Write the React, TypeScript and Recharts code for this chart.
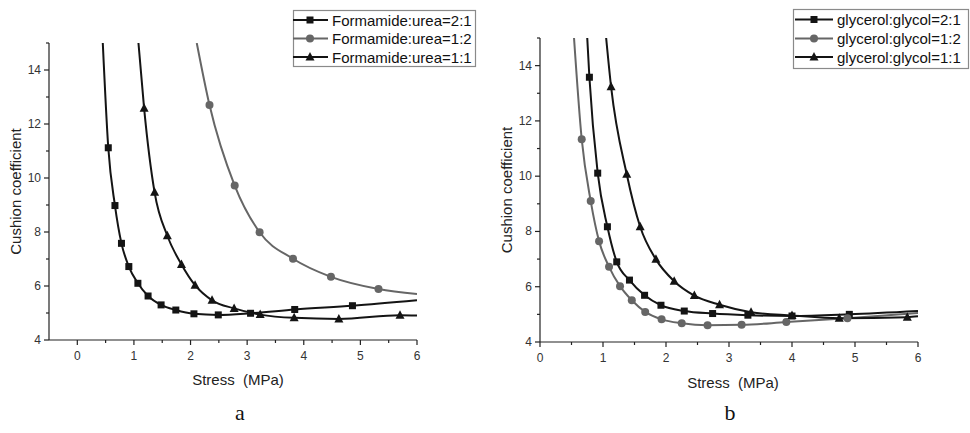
import React from 'react';
import { ComposedChart, Line, XAxis, YAxis, Legend, Label } from 'recharts';

// ---------- Panel a : Formamide:urea ----------
const stressA21 = [0.45, 0.547, 0.665, 0.78, 0.91, 1.07, 1.25, 1.48, 1.74, 2.06, 2.49, 3.06, 3.84, 4.86, 6.0];
const coefA21 = [15, 11.12, 8.98, 7.58, 6.72, 6.1, 5.63, 5.3, 5.11, 4.97, 4.93, 4.99, 5.13, 5.27, 5.47];

const stressA12 = [2.11, 2.335, 2.78, 3.22, 3.81, 4.48, 5.32, 6.0];
const coefA12 = [15, 12.7, 9.72, 7.99, 7.01, 6.34, 5.89, 5.7];

const stressA11 = [1.08, 1.18, 1.365, 1.59, 1.84, 2.08, 2.38, 2.77, 3.23, 3.83, 4.62, 5.7, 6.0];
const coefA11 = [15, 12.58, 9.47, 7.86, 6.8, 6.03, 5.47, 5.17, 4.94, 4.82, 4.78, 4.92, 4.91];

// ---------- Panel b : glycerol:glycol ----------
const stressB21 = [0.75, 0.784, 0.916, 1.07, 1.218, 1.42, 1.66, 1.92, 2.29, 2.74, 3.3, 4.0, 4.91, 6.0];
const coefB21 = [15, 13.58, 10.11, 8.17, 6.9, 6.24, 5.69, 5.33, 5.12, 5.03, 4.97, 4.94, 5.0, 5.12];

const stressB12 = [0.54, 0.662, 0.805, 0.9375, 1.096, 1.27, 1.457, 1.67, 1.93, 2.25, 2.66, 3.2, 3.91, 4.88, 6.0];
const coefB12 = [15, 11.34, 9.1, 7.65, 6.72, 6.02, 5.51, 5.09, 4.82, 4.68, 4.61, 4.62, 4.72, 4.86, 5.05];

const stressB11 = [1.05, 1.128, 1.377, 1.59, 1.84, 2.13, 2.45, 2.85, 3.35, 4.0, 4.75, 5.83, 6.0];
const coefB11 = [15, 13.24, 10.07, 8.17, 6.99, 6.2, 5.68, 5.35, 5.08, 4.96, 4.86, 4.9, 4.93];

// ---------- ticks / labels ----------
const xTicks = [0, 0.5, 1, 1.5, 2, 2.5, 3, 3.5, 4, 4.5, 5, 5.5, 6];
const yTicks = [4, 5, 6, 7, 8, 9, 10, 11, 12, 13, 14, 15];
const namesA = ['Formamide:urea=2:1', 'Formamide:urea=1:2', 'Formamide:urea=1:1'];
const namesB = ['glycerol:glycol=2:1', 'glycerol:glycol=1:2', 'glycerol:glycol=1:1'];
const yTitle = 'Cushion coefficient';
const xTitle = 'Stress  (MPa)';

const BLACK = '#141414';
const GREY = '#666666';
const AXIS = '#222222';
const FONT = '"Liberation Sans", Arial, sans-serif';

type Shape = 'square' | 'circle' | 'triangle';
const shapes: Shape[] = ['square', 'circle', 'triangle'];
const colors = [BLACK, GREY, BLACK];

const toRows = (xs: number[], ys: number[]) => xs.map((x, i) => ({ x, y: ys[i] }));

const Marker = ({ shape, cx, cy, color }: { shape: Shape; cx: number; cy: number; color: string }) => {
  if (shape === 'square') return <rect x={cx - 3.5} y={cy - 3.5} width={7} height={7} fill={color} />;
  if (shape === 'circle') return <circle cx={cx} cy={cy} r={4} fill={color} />;
  return <polygon points={`${cx},${cy - 5} ${cx - 4.5},${cy + 3.5} ${cx + 4.5},${cy + 3.5}`} fill={color} />;
};

const makeDot = (shape: Shape, color: string, count: number) => (props: any) => {
  const { cx, cy, index } = props;
  if (index === 0 || index === count - 1 || cx == null || cy == null) return <g key={`e${index}`} />;
  return (
    <g key={`d${index}`}>
      <Marker shape={shape} cx={cx} cy={cy} color={color} />
    </g>
  );
};

const XTick = (props: any) => {
  const { x, y, payload } = props;
  const v = payload.value as number;
  const major = Number.isInteger(v);
  return (
    <g>
      <line x1={x} x2={x} y1={y} y2={y + (major ? 5 : 3)} stroke={AXIS} strokeWidth={1.2} />
      {major && (
        <text x={x} y={y + 16} textAnchor="middle" dominantBaseline="central" fontSize={12} fontFamily={FONT} fill="#333">
          {v}
        </text>
      )}
    </g>
  );
};

const YTick = (props: any) => {
  const { x, y, payload } = props;
  const v = payload.value as number;
  const major = v % 2 === 0;
  return (
    <g>
      <line x1={x - (major ? 5 : 3)} x2={x} y1={y} y2={y} stroke={AXIS} strokeWidth={1.2} />
      {major && (
        <text x={x - 8} y={y} textAnchor="end" dominantBaseline="central" fontSize={12} fontFamily={FONT} fill="#333">
          {v}
        </text>
      )}
    </g>
  );
};

type Box = { x: number; y: number; w: number; h: number; rows: number[]; lineX1: number; lineX2: number; symX: number; textX: number };

const LegendContent = ({ box, names }: { box: Box; names: string[] }) => (
  <svg width={485} height={433} style={{ position: 'absolute', left: 0, top: 0, pointerEvents: 'none' }}>
    <rect x={box.x + 0.5} y={box.y + 0.5} width={box.w} height={box.h} fill="#fff" stroke="#8a8a8a" strokeWidth={1.2} />
    {names.map((n, i) => (
      <g key={n}>
        <line x1={box.lineX1} x2={box.lineX2} y1={box.rows[i]} y2={box.rows[i]} stroke={colors[i]} strokeWidth={2} />
        <Marker shape={shapes[i]} cx={box.symX} cy={box.rows[i]} color={colors[i]} />
        <text x={box.textX} y={box.rows[i]} dominantBaseline="central" fontSize={15} fontFamily={FONT} fill="#111">
          {n}
        </text>
      </g>
    ))}
  </svg>
);

type PanelProps = {
  left: number;
  margin: { top: number; right: number; bottom: number; left: number };
  yWidth: number;
  xDomain: [number, number];
  xTickList: number[];
  series: { x: number[]; y: number[] }[];
  names: string[];
  box: Box;
  xTitleDx: number;
  xTitleDy: number;
};

const Panel = ({ left, margin, yWidth, xDomain, xTickList, series, names, box, xTitleDx, xTitleDy }: PanelProps) => (
  <div style={{ position: 'absolute', left, top: 0, width: 485, height: 433 }}>
    <ComposedChart width={485} height={433} margin={margin}>
      <XAxis
        type="number"
        dataKey="x"
        domain={xDomain}
        ticks={xTickList}
        interval={0}
        allowDataOverflow
        height={40}
        tickSize={0}
        tickMargin={0}
        tickLine={false}
        tick={<XTick />}
        axisLine={{ stroke: AXIS, strokeWidth: 1.2 }}
      >
        <Label
          content={(p: any) => {
            const vb = p.viewBox;
            return (
              <text
                x={vb.x + vb.width / 2 + xTitleDx}
                y={vb.y + xTitleDy}
                textAnchor="middle"
                dominantBaseline="central"
                fontSize={15}
                fontFamily={FONT}
                fill="#222"
                style={{ whiteSpace: 'pre' }}
              >
                {xTitle}
              </text>
            );
          }}
        />
      </XAxis>
      <YAxis
        type="number"
        dataKey="y"
        domain={[4, 15]}
        ticks={yTicks}
        interval={0}
        allowDataOverflow
        width={yWidth}
        tickSize={0}
        tickMargin={0}
        tickLine={false}
        tick={<YTick />}
        axisLine={{ stroke: AXIS, strokeWidth: 1.2 }}
      >
        <Label
          content={(p: any) => {
            const vb = p.viewBox;
            const cx = vb.x + vb.width - 34;
            const cy = vb.y + vb.height / 2;
            return (
              <text
                x={cx}
                y={cy}
                transform={`rotate(-90 ${cx} ${cy})`}
                textAnchor="middle"
                dominantBaseline="central"
                fontSize={15}
                fontFamily={FONT}
                fill="#222"
              >
                {yTitle}
              </text>
            );
          }}
        />
      </YAxis>
      {series.map((s, i) => (
        <Line
          key={names[i]}
          name={names[i]}
          data={toRows(s.x, s.y)}
          dataKey="y"
          type="monotone"
          stroke={colors[i]}
          strokeWidth={2}
          dot={makeDot(shapes[i], colors[i], s.x.length)}
          activeDot={false}
          isAnimationActive={false}
        />
      ))}
      <Legend
        layout="horizontal"
        verticalAlign="middle"
        align="center"
        wrapperStyle={{ left: 0, top: 0, width: 485, height: 433 }}
        content={() => <LegendContent box={box} names={names} />}
      />
    </ComposedChart>
  </div>
);

export default function App() {
  return (
    <div style={{ position: 'absolute', left: 0, top: 0, width: 970, height: 433, background: '#fff', overflow: 'hidden' }}>
      <Panel
        left={0}
        margin={{ top: 43, right: 68, bottom: 53, left: 0 }}
        yWidth={49}
        xDomain={[-0.5, 6]}
        xTickList={xTicks}
        series={[
          { x: stressA21, y: coefA21 },
          { x: stressA12, y: coefA12 },
          { x: stressA11, y: coefA11 },
        ]}
        names={namesA}
        box={{ x: 293, y: 10, w: 182, h: 56, rows: [20, 38.5, 57], lineX1: 293, lineX2: 328, symX: 310, textX: 332 }}
        xTitleDx={5}
        xTitleDy={39}
      />
      <Panel
        left={485}
        margin={{ top: 38, right: 52, bottom: 51, left: 0 }}
        yWidth={55}
        xDomain={[0, 6]}
        xTickList={xTicks}
        series={[
          { x: stressB21, y: coefB21 },
          { x: stressB12, y: coefB12 },
          { x: stressB11, y: coefB11 },
        ]}
        names={namesB}
        box={{ x: 308, y: 9, w: 175, h: 59, rows: [19.5, 38.5, 57], lineX1: 310, lineX2: 348, symX: 329, textX: 352 }}
        xTitleDx={4}
        xTitleDy={40}
      />
      <svg width={970} height={433} style={{ position: 'absolute', left: 0, top: 0, pointerEvents: 'none' }}>
        <text x={240} y={420} textAnchor="middle" fontSize={22} fontFamily='"Liberation Serif", "Times New Roman", serif' fill="#111">
          a
        </text>
        <text x={730} y={420} textAnchor="middle" fontSize={22} fontFamily='"Liberation Serif", "Times New Roman", serif' fill="#111">
          b
        </text>
      </svg>
    </div>
  );
}
